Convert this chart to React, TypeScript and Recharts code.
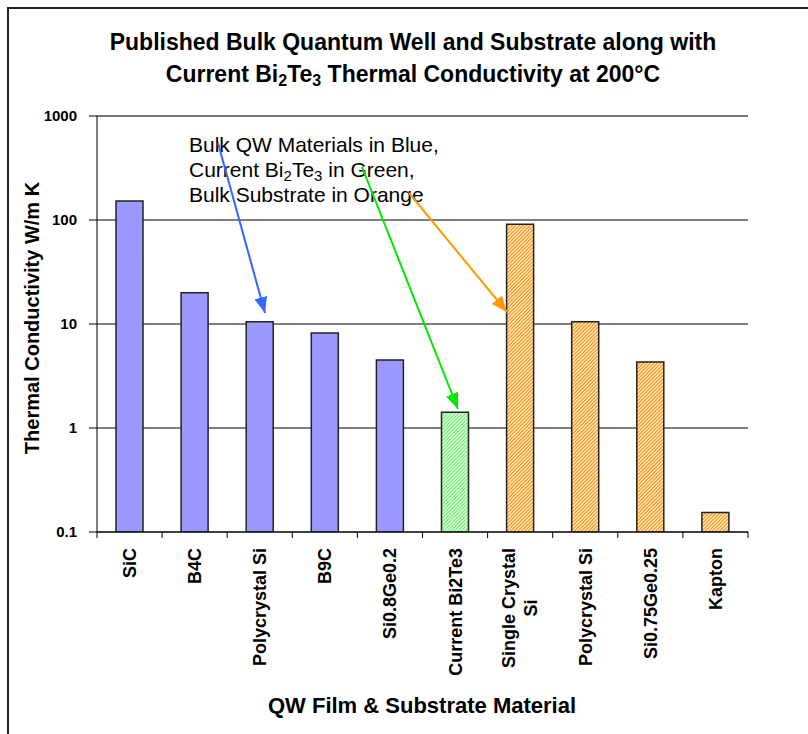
import { BarChart, Bar, XAxis, YAxis, CartesianGrid, ReferenceLine, Cell } from 'recharts';

const FONT = '"Liberation Sans", Arial, sans-serif';

const materials = [
  'SiC',
  'B4C',
  'Polycrystal Si',
  'B9C',
  'Si0.8Ge0.2',
  'Current Bi2Te3',
  'Single Crystal\nSi',
  'Polycrystal Si',
  'Si0.75Ge0.25',
  'Kapton',
];
const conductivity = [152, 20, 10.5, 8.2, 4.5, 1.42, 91, 10.5, 4.3, 0.154];
const groups = ['qw', 'qw', 'qw', 'qw', 'qw', 'current', 'substrate', 'substrate', 'substrate', 'substrate'];
const yTicks = [0.1, 1, 10, 100, 1000];

const groupFill: Record<string, string> = {
  qw: '#9999FF',
  current: 'url(#hatchGreen)',
  substrate: 'url(#hatchOrange)',
};

const data = materials.map((name, i) => ({ name, value: conductivity[i], group: groups[i] }));

const W = 808;
const H = 734;
const margin = { top: 116, right: 60, bottom: 2, left: 17 };
const plotWidth = W - margin.left - 80 - margin.right;
const BAND = plotWidth / materials.length;

let ctx: CanvasRenderingContext2D | null = null;
function textWidth(s: string, font: string) {
  if (!ctx) ctx = document.createElement('canvas').getContext('2d');
  if (!ctx) return s.length * 10;
  ctx.font = font;
  return ctx.measureText(s).width;
}

function MaterialTick(props: any) {
  const { x, y, payload, index } = props;
  const half = payload && payload.offset ? payload.offset : BAND / 2;
  const lines = String(payload.value).split('\n');
  const font = `bold 18px ${FONT}`;
  const top = y + 16;
  const longest = Math.max(...lines.map((l) => textWidth(l, font)));
  const lineGap = 22;
  return (
    <g>
      <line x1={x - half} x2={x - half} y1={y} y2={y + 6} stroke="#000" />
      {index === materials.length - 1 && (
        <line x1={x + half} x2={x + half} y1={y} y2={y + 6} stroke="#000" />
      )}
      {lines.length === 1 ? (
        <text
          transform={`translate(${x},${top}) rotate(-90)`}
          textAnchor="end"
          dy="0.36em"
          fontFamily={FONT}
          fontSize={18}
          fontWeight="bold"
          fill="#000"
        >
          {lines[0]}
        </text>
      ) : (
        lines.map((l, i) => (
          <text
            key={i}
            transform={`translate(${x + (i - (lines.length - 1) / 2) * lineGap - 1},${top + longest / 2}) rotate(-90)`}
            textAnchor="middle"
            dy="0.36em"
            fontFamily={FONT}
            fontSize={18}
            fontWeight="bold"
            fill="#000"
          >
            {l}
          </text>
        ))
      )}
    </g>
  );
}

export default function App() {
  return (
    <div
      style={{
        position: 'absolute',
        left: 0,
        top: 0,
        width: W,
        height: H,
        overflow: 'hidden',
        background: '#fff',
      }}
    >
      <svg width={0} height={0} style={{ position: 'absolute' }}>
        <defs>
          <pattern id="hatchGreen" width="2.5" height="2.5" patternUnits="userSpaceOnUse" patternTransform="rotate(45)">
            <rect width="2.5" height="2.5" fill="#80F080" />
            <rect width="0.9" height="2.5" fill="#ffffff" />
          </pattern>
          <pattern id="hatchOrange" width="2.5" height="2.5" patternUnits="userSpaceOnUse" patternTransform="rotate(45)">
            <rect width="2.5" height="2.5" fill="#FFA126" />
            <rect width="0.9" height="2.5" fill="#ffffff" />
          </pattern>
        </defs>
      </svg>

      {/* outer frame, right and bottom edges fall outside the picture */}
      <div
        style={{
          position: 'absolute',
          left: 7,
          top: 7,
          width: 1000,
          height: 1000,
          borderLeft: '2px solid #222',
          borderTop: '2px solid #222',
        }}
      />

      <div style={{ position: 'absolute', left: 0, top: 0 }}>
        <BarChart width={W} height={H} data={data} margin={margin} barSize={27}>
          <CartesianGrid horizontal vertical={false} stroke="#000" strokeWidth={1} />
          <XAxis
            dataKey="name"
            height={200}
            interval={0}
            tickLine={false}
            tickSize={0}
            tickMargin={0}
            axisLine={{ stroke: '#000' }}
            tick={<MaterialTick />}
          />
          <YAxis
            width={80}
            scale="log"
            domain={[0.1, 1000]}
            ticks={yTicks}
            allowDataOverflow
            tickSize={8}
            tickMargin={12}
            axisLine={{ stroke: '#000' }}
            tickLine={{ stroke: '#000' }}
            tickFormatter={(v: number) => (v < 1 ? String(v) : String(Math.round(v)))}
            tick={{ fill: '#000', fontSize: 15, fontWeight: 'bold', fontFamily: FONT }}
          />
          <YAxis
            yAxisId="frame"
            orientation="right"
            width={0}
            scale="log"
            domain={[0.1, 1000]}
            tick={false}
            tickLine={false}
            axisLine={{ stroke: '#888', strokeWidth: 2 }}
          />
          <ReferenceLine y={1000} stroke="#777" strokeWidth={2} />
          <Bar dataKey="value" stroke="#222" strokeWidth={1.5} isAnimationActive={false}>
            {data.map((d, i) => (
              <Cell key={i} fill={groupFill[d.group]} />
            ))}
          </Bar>
        </BarChart>
      </div>

      <svg
        width={W}
        height={H}
        style={{ position: 'absolute', left: 0, top: 0, pointerEvents: 'none' }}
        fontFamily={FONT}
      >
        <defs>
          <marker id="ahBlue" markerUnits="userSpaceOnUse" markerWidth="16" markerHeight="13" refX="16" refY="6.5" orient="auto">
            <path d="M0,0 L16,6.5 L0,13 z" fill="#3366FF" />
          </marker>
          <marker id="ahGreen" markerUnits="userSpaceOnUse" markerWidth="16" markerHeight="13" refX="16" refY="6.5" orient="auto">
            <path d="M0,0 L16,6.5 L0,13 z" fill="#00E600" />
          </marker>
          <marker id="ahOrange" markerUnits="userSpaceOnUse" markerWidth="16" markerHeight="13" refX="16" refY="6.5" orient="auto">
            <path d="M0,0 L16,6.5 L0,13 z" fill="#FF9900" />
          </marker>
        </defs>

        <text x={413} y={50} textAnchor="middle" fontSize={23} fontWeight="bold" fill="#000">
          Published Bulk Quantum Well and Substrate along with
        </text>
        <text x={413} y={82} textAnchor="middle" fontSize={23} fontWeight="bold" fill="#000">
          Current Bi
          <tspan dy={4} fontSize={16}>2</tspan>
          <tspan dy={-4}>Te</tspan>
          <tspan dy={4} fontSize={16}>3</tspan>
          <tspan dy={-4}> Thermal Conductivity at 200°C</tspan>
        </text>

        <text
          transform="translate(39,318) rotate(-90)"
          textAnchor="middle"
          fontSize={20}
          fontWeight="bold"
          fill="#000"
        >
          Thermal Conductivity W/m K
        </text>

        <text x={422} y={713} textAnchor="middle" fontSize={22} fontWeight="bold" fill="#000">
          QW Film &amp; Substrate Material
        </text>

        <text x={189} y={152} fontSize={21} fill="#000">
          Bulk QW Materials in Blue,
        </text>
        <text x={189} y={177} fontSize={21} fill="#000">
          Current Bi
          <tspan dy={4} fontSize={15}>2</tspan>
          <tspan dy={-4}>Te</tspan>
          <tspan dy={4} fontSize={15}>3</tspan>
          <tspan dy={-4}> in Green,</tspan>
        </text>
        <text x={189} y={202} fontSize={21} fill="#000">
          Bulk Substrate in Orange
        </text>

        <line x1={218} y1={143} x2={265} y2={313} stroke="#3366FF" strokeWidth={2} markerEnd="url(#ahBlue)" />
        <line x1={362} y1={167} x2={458} y2={409} stroke="#00E600" strokeWidth={2} markerEnd="url(#ahGreen)" />
        <line x1={409} y1={193} x2={507} y2={312} stroke="#FF9900" strokeWidth={2} markerEnd="url(#ahOrange)" />
      </svg>
    </div>
  );
}
